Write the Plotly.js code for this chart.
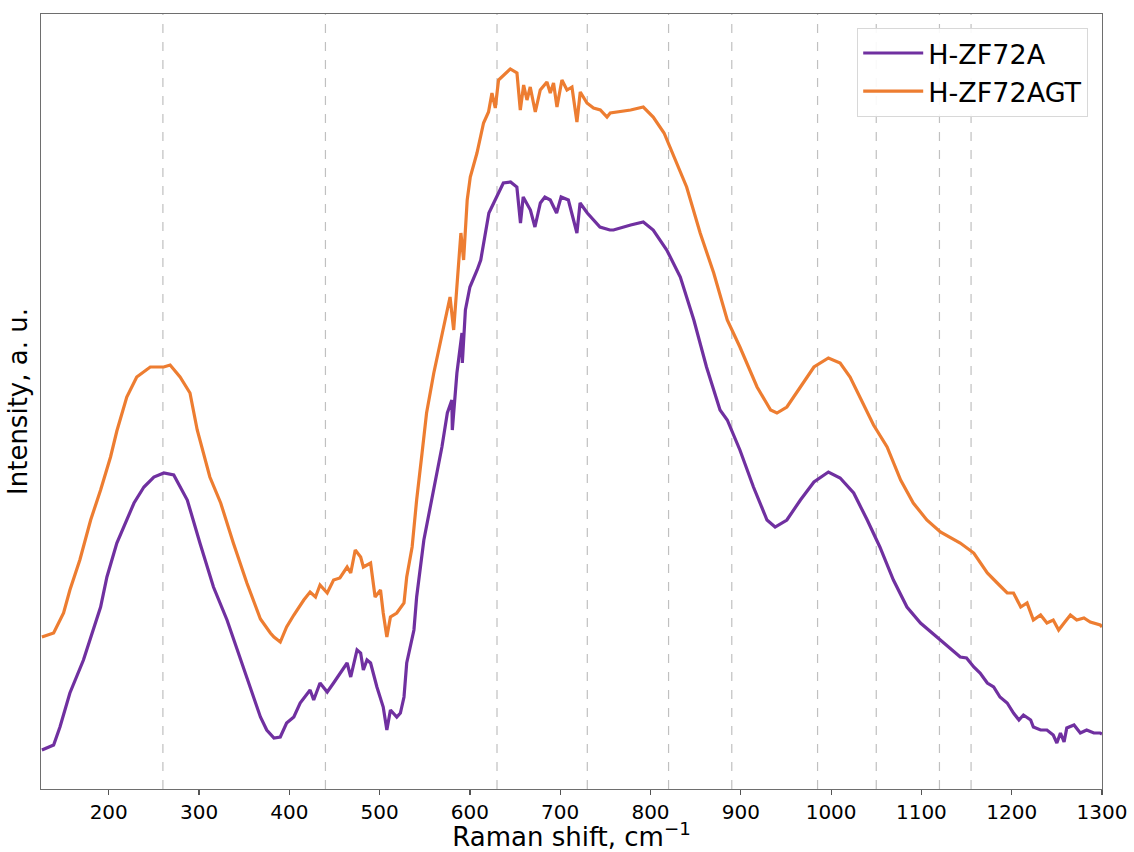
<!DOCTYPE html>
<html>
<head>
<meta charset="utf-8">
<script src="https://cdn.plot.ly/plotly-3.0.1.min.js"></script>
<style>
  html, body { margin: 0; padding: 0; background: #ffffff; }
  #chart { width: 1134px; height: 852px; }
</style>
</head>
<body>
<div id="chart"></div>
<script>
// Raman shift (cm^-1) and intensity (a. u.)
const shiftA = [126,139,146,157,172,191,198,209,228,239,250,261,272,287,301,316,331,346,360,368,375,383,390,397,405,412,423,427,434,442,449,456,464,468,475,479,482,486,490,497,504,508,512,519,523,527,530,538,541,549,560,569,575,580,580.5,585.6,591.2,591.6,595,600,608,612,621,630,637,645,652,656,659,667,672,678,683,689,696,701,709,718.5,722,730,737,744,755,759,778,792,803,818,833,848,862,877,885,899,914,929,938,951,966,981,997,1010,1025,1040,1054,1069,1084,1099,1121,1143,1150,1158,1165,1173,1180,1187,1195,1202,1208,1213,1221,1224,1232,1239,1246,1250,1254,1258,1261,1269,1276,1283,1291,1298,1300];
const intensityA = [39,44,62,96,129,182,212,246,286,302,312,316,314,289,246,202,169,129,92,72,59,51,52,66,72,86,99,89,106,97,106,116,126,112,139,136,119,129,126,102,82,59,79,72,76,92,126,159,192,249,302,342,376,389,359,416,456,426,479,502,519,529,576,592,606,607,602,566,592,579,562,586,592,589,576,592,589,556,586,576,569,562,559,559,564,567,559,539,512,469,422,379,369,339,302,269,262,269,289,307,317,311,296,269,242,209,182,166,149,132,131,122,116,106,102,92,86,76,69,74,69,62,59,59,54,46,56,47,61,64,56,59,56,56,55];

const shiftAGT = [126,139,150,157,168,180,191,202,209,220,231,246,261,268,279,290,298,312,324,338,353,368,379,383,390,397,405,416,423,429,434,442,449,456,464,468,473,479,482,490,495,501,504,508,512,519,527,530,536,541,547,552,560,567,575,578,582,590,593,597,600.4,607.8,615.1,620.6,624.4,628.1,631.7,637.3,644.7,652.1,655.8,659.5,663.2,666.8,672.4,677.9,685.3,689,692.6,696.4,701.9,707.5,713,718.5,722.2,729.6,736.9,744.4,751.8,755.4,778,792,803,815,826,840,855,870,885,899,918,933,940,951,966,981,997,1010,1021,1032,1047,1062,1077,1091,1106,1121,1143,1158,1173,1184,1195,1202,1210,1217,1224,1232,1239,1246,1252,1258,1265,1272,1280,1287,1298,1300];
const intensityAGT = [152,156,176,199,229,269,299,332,358,392,412,422,422,424,412,396,359,312,286,246,206,170,156,152,147,162,174,189,197,192,204,196,209,211,222,216,239,232,222,226,192,199,176,152,172,176,186,212,242,289,336,376,416,446,479,492,459,556,529,589,612,636,666,677,696,681,709,714,720,716,679,704,689,702,677,699,707,696,706,682,709,699,702,667,697,686,681,679,672,676,679,682,672,656,632,602,556,516,469,442,402,379,376,382,402,422,431,426,412,392,364,342,309,286,269,257,246,236,216,206,196,196,182,186,169,174,166,169,159,166,174,169,171,167,164,162];

// Reference band positions (dashed guide lines)
const bandLines = [260, 440, 630, 730, 820, 890, 985, 1050, 1120, 1155];
const xTicks = [200, 300, 400, 500, 600, 700, 800, 900, 1000, 1100, 1200, 1300];
const seriesNames = ['H-ZF72A', 'H-ZF72AGT'];

const traces = [
  { x: shiftA, y: intensityA, name: seriesNames[0], type: 'scatter', mode: 'lines',
    line: { color: '#7030A0', width: 3.2 } },
  { x: shiftAGT, y: intensityAGT, name: seriesNames[1], type: 'scatter', mode: 'lines',
    line: { color: '#ED7D31', width: 3.2 } }
];

const shapes = bandLines.map(v => ({
  type: 'line', xref: 'x', yref: 'paper', x0: v, x1: v, y0: 0, y1: 1,
  line: { color: '#c0c0c0', width: 1.2, dash: 'dash' }, layer: 'below'
}));

const layout = {
  width: 1134, height: 852,
  margin: { l: 41, r: 32, t: 14, b: 63 },
  paper_bgcolor: '#ffffff', plot_bgcolor: '#ffffff',
  font: { family: 'DejaVu Sans, sans-serif', color: '#000000' },
  showlegend: true,
  legend: {
    x: 0.987, y: 0.982, xanchor: 'right', yanchor: 'top',
    bgcolor: 'rgba(255,255,255,0.9)', bordercolor: '#d8d8d8', borderwidth: 1,
    font: { size: 27, family: 'DejaVu Sans, sans-serif' },
    itemwidth: 60,
    tracegroupgap: 6
  },
  xaxis: {
    range: [125, 1300],
    tickvals: xTicks,
    ticktext: xTicks.map(String),
    ticks: 'outside', ticklen: 5, tickwidth: 1.2, tickcolor: '#555555',
    tickfont: { size: 20 },
    showgrid: false, zeroline: false,
    showline: true, linecolor: '#6e6e6e', linewidth: 1.3, mirror: true,
    title: { text: 'Raman shift, cm<sup>−1</sup>', font: { size: 26 }, standoff: 10 }
  },
  yaxis: {
    range: [0, 775],
    showticklabels: false, ticks: '',
    showgrid: false, zeroline: false,
    showline: true, linecolor: '#6e6e6e', linewidth: 1.3, mirror: true,
    title: { text: 'Intensity, a. u.', font: { size: 26 }, standoff: 4 }
  },
  shapes: shapes
};

Plotly.newPlot('chart', traces, layout, { displayModeBar: false, staticPlot: true });
</script>
</body>
</html>
